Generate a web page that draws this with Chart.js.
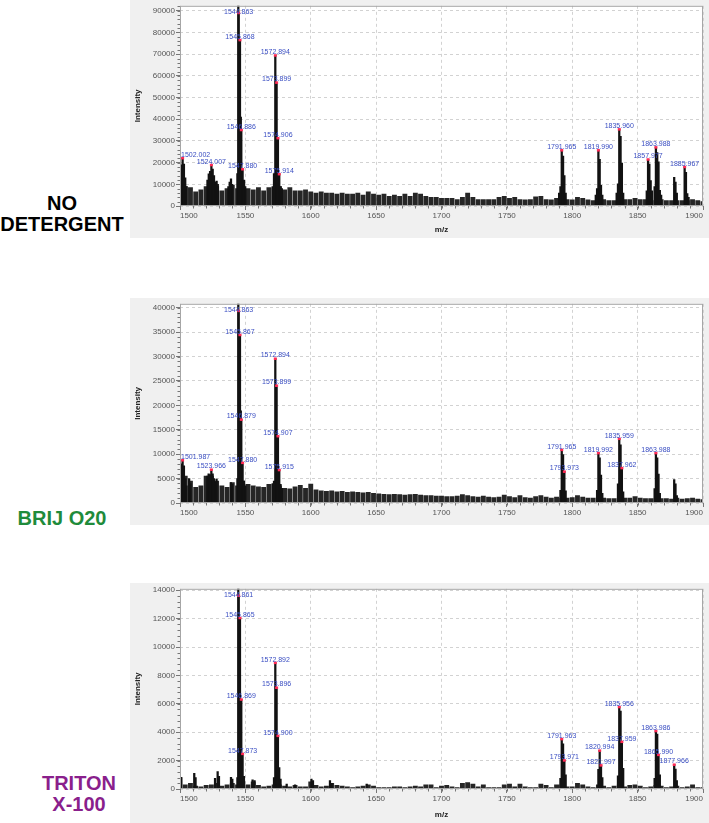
<!DOCTYPE html>
<html>
<head>
<meta charset="utf-8">
<script src="https://cdn.jsdelivr.net/npm/chart.js@4.4.0/dist/chart.umd.min.js"></script>
<style>
  body { margin: 0; width: 709px; height: 823px; position: relative; background: #fff; overflow: hidden;
         font-family: "Liberation Sans", Arial, sans-serif; }
  .panel { position: absolute; left: 130px; width: 579px; background: #f0f0f0; }
  .tag { position: absolute; font-weight: bold; font-size: 20px; line-height: 21px; text-align: center; }
</style>
</head>
<body>

<div class="tag" style="left:0;top:193px;width:124px;color:#000">NO<br>DETERGENT</div>
<div class="tag" style="left:0;top:508px;width:124px;color:#1f8b3b">BRIJ O20</div>
<div class="tag" style="left:0;top:773px;width:158px;color:#8a1f8c">TRITON<br>X-100</div>

<div class="panel" style="top:0;height:238px"><canvas id="c1"></canvas></div>
<div class="panel" style="top:298px;height:227px"><canvas id="c2"></canvas></div>
<div class="panel" style="top:583px;height:240px"><canvas id="c3"></canvas></div>

<script>
// X AXIS
const xTicks = [1500, 1550, 1600, 1650, 1700, 1750, 1800, 1850, 1900];
const baseStart = 1500;   // baseline "grass" sampled every 4 m/z
const baseStep = 4;

// ---------- NO DETERGENT ----------
const yTicks1 = [0, 10000, 20000, 30000, 40000, 50000, 60000, 70000, 80000, 90000];
const base1 = [12000, 9000, 8500, 6500, 7500, 9000, 12000, 10000, 7000, 8000,
  9500, 8000, 11000, 8000, 7500, 8500, 7000, 8500, 8500, 9000,
  7500, 8500, 7000, 7000, 7500, 6500, 6000, 6500, 6000, 6000,
  5500, 6000, 5500, 5500, 6000, 5000, 6500, 5500, 5000, 5500,
  4500, 5000, 4500, 5500, 4500, 6000, 5500, 4500, 4000, 4000,
  3500, 3500, 3500, 3000, 4000, 6000, 4000, 3000, 3000, 3000,
  3000, 4000, 4500, 3500, 4000, 3000, 2800, 3000, 4200, 4500,
  3000, 2800, 3500, 3000, 3000, 2800, 4000, 3500, 2800, 2500,
  3000, 3000, 2500, 2500, 2500, 3000, 3000, 3500, 3000, 3000,
  2500, 2500, 3000, 2500, 2500, 2500, 2500, 2500, 3000, 2500, 2000];
const labMz1 = [1502.002, 1524.007, 1544.863, 1545.868, 1546.886, 1547.880,
  1572.894, 1573.899, 1574.906, 1575.914,
  1791.965, 1819.990, 1835.960, 1857.977, 1863.988, 1885.967];
const labInt1 = [22170, 19000, 89100, 76600, 35140, 17040,
  69520, 57000, 31370, 14780,
  25790, 25790, 35440, 21560, 27140, 18100];
const extraMz1 = [1501.0, 1503.0, 1504.0, 1505.0,
  1521.0, 1522.0, 1523.0, 1525.0, 1526.0, 1527.0, 1528.0, 1529.0,
  1537.0, 1538.0, 1539.0, 1540.0,
  1543.9, 1544.6, 1546.5, 1548.9, 1549.9,
  1570.9, 1571.9, 1576.9, 1577.9,
  1789.96, 1790.96, 1792.97, 1793.97, 1794.97,
  1817.99, 1818.99, 1820.99, 1821.99, 1822.99,
  1833.96, 1834.96, 1836.96, 1837.96, 1838.96,
  1856.98, 1858.98, 1859.98, 1860.98,
  1862.99, 1864.99, 1865.99, 1866.99, 1867.99,
  1877.97, 1878.97, 1879.97,
  1886.97, 1887.97, 1888.97];
const extraInt1 = [19000, 19300, 13000, 9000,
  12000, 14800, 16000, 17000, 14000, 11000, 11500, 9000,
  9000, 11000, 12500, 10000,
  15000, 93000, 41000, 12000, 9000,
  9000, 15000, 9000, 8000,
  6000, 9000, 23070, 14020, 6000,
  5000, 8000, 21560, 9500, 5000,
  6000, 10250, 32120, 19750, 6000,
  7000, 19300, 11760, 7000,
  9000, 24580, 20360, 7240, 5000,
  13270, 11000, 6000,
  15530, 5730, 4000];

// ---------- BRIJ O20 ----------
const yTicks2 = [0, 5000, 10000, 15000, 20000, 25000, 30000, 35000, 40000];
const base2 = [5000, 5500, 4500, 3200, 3500, 5500, 5500, 4500, 3500, 3200,
  4200, 3500, 4500, 3800, 3500, 3300, 3200, 3800, 3800, 3500,
  3000, 2900, 3300, 3600, 3000, 3900, 2700, 2500, 2400, 2500,
  2300, 2400, 2200, 2300, 2200, 2100, 2200, 2000, 1900, 1800,
  1700, 1800, 1700, 1600, 1700, 1800, 1600, 1500, 1500, 1400,
  1400, 1300, 1300, 1400, 1700, 1500, 1300, 1200, 1400, 1200,
  1100, 1200, 1600, 1300, 1100, 1500, 1100, 1000, 1300, 1500,
  1200, 1000, 1200, 1000, 1000, 1100, 1500, 1200, 1000, 1000,
  1000, 1000, 900, 900, 1000, 1000, 1000, 1300, 1000, 900,
  900, 900, 900, 900, 800, 1000, 800, 900, 1000, 800, 700];
const labMz2 = [1501.987, 1523.966, 1544.863, 1545.867, 1546.879, 1547.880,
  1572.894, 1573.899, 1574.907, 1575.915,
  1791.965, 1793.973, 1819.992, 1835.959, 1837.962, 1863.988];
const labInt2 = [8800, 6870, 39400, 34470, 17130, 8270,
  29600, 24070, 13730, 6800,
  10930, 6470, 10270, 13200, 7200, 10270];
const extraMz2 = [1501.0, 1503.0, 1504.0, 1505.0, 1507.0, 1508.0,
  1520.9, 1521.9, 1522.9, 1524.97, 1525.97, 1526.97, 1527.97,
  1538.9, 1539.9,
  1543.9, 1544.6, 1546.5, 1548.9, 1549.9,
  1570.9, 1571.9, 1576.9, 1577.9,
  1790.97, 1792.97, 1794.97,
  1818.99, 1820.99, 1821.99, 1822.99,
  1834.96, 1836.96, 1838.96,
  1862.99, 1864.99, 1865.99, 1866.99,
  1877.97, 1878.97, 1879.97];
const extraInt2 = [8000, 7600, 5000, 3500, 5000, 4000,
  5500, 6000, 5800, 6000, 5000, 4300, 4900,
  4200, 3800,
  5000, 42000, 18900, 4500, 3500,
  4000, 4500, 3800, 3000,
  2600, 9930, 2500,
  2600, 9270, 5730, 2000,
  3930, 11930, 2270,
  2930, 9270, 5930, 2000,
  4800, 3930, 1500];

// ---------- TRITON X-100 ----------
const yTicks3 = [0, 2000, 4000, 6000, 8000, 10000, 12000, 14000];
const base3 = [800, 300, 400, 200, 150, 250, 300, 400, 200, 300,
  400, 300, 500, 300, 500, 250, 150, 200, 300, 300,
  200, 150, 250, 150, 150, 500, 250, 150, 200, 400,
  250, 200, 150, 100, 150, 200, 300, 200, 100, 100,
  100, 150, 150, 100, 150, 200, 150, 300, 300, 100,
  200, 250, 150, 100, 400, 450, 350, 150, 300, 100,
  100, 100, 300, 350, 150, 350, 150, 100, 100, 350,
  250, 100, 300, 300, 150, 150, 400, 300, 150, 100,
  300, 200, 100, 200, 300, 150, 250, 300, 200, 100,
  150, 250, 200, 100, 150, 200, 100, 150, 300, 100, 100];
const labMz3 = [1544.861, 1545.865, 1546.869, 1547.873,
  1572.892, 1573.896, 1574.900,
  1791.963, 1793.971, 1820.994, 1821.997, 1835.956, 1837.959,
  1863.986, 1865.990, 1877.966];
const labInt3 = [13630, 12060, 6320, 2490,
  8900, 7150, 3760,
  3530, 2030, 2720, 1680, 5790, 3340,
  4100, 2420, 1730];
const extraMz3 = [1500.8, 1510.9, 1511.9, 1526.8, 1528.8, 1529.8, 1539.0, 1540.0,
  1543.9, 1544.6, 1548.9, 1555.5, 1557.0, 1571.9, 1575.9, 1576.9,
  1581.6, 1588.0, 1600.5, 1601.7, 1614.7, 1616.0, 1642.8,
  1790.96, 1792.97, 1794.97, 1819.99, 1822.99, 1834.96, 1836.96, 1838.96,
  1862.99, 1864.99, 1866.99, 1878.97, 1879.97];
const extraInt3 = [830, 1110, 800, 760, 1220, 900, 830, 700,
  800, 14500, 900, 650, 600, 800, 1500, 700,
  350, 300, 700, 600, 600, 400, 350,
  760, 3180, 1000, 1380, 800, 920, 5490, 1450,
  760, 3870, 1000, 1400, 600];

Chart.defaults.font.family = '"Liberation Sans", Arial, sans-serif';
Chart.defaults.font.size = 8;
Chart.defaults.color = '#555';

// white plot area, frame, minor ticks and peak labels
const specPlugin = {
  id: 'spec',
  beforeDraw(chart) {
    const { ctx, chartArea: a } = chart;
    ctx.save();
    ctx.fillStyle = '#fff';
    ctx.fillRect(a.left, a.top, a.right - a.left, a.bottom - a.top);
    ctx.restore();
  },
  afterDraw(chart) {
    const { ctx, chartArea: a, scales: { x, y } } = chart;
    const o = chart.options.plugins.spec;
    ctx.save();
    // peak markers + labels
    ctx.font = '7px "Liberation Sans", Arial, sans-serif';
    ctx.textAlign = 'center';
    ctx.textBaseline = 'alphabetic';
    o.labMz.forEach((mz, i) => {
      const px = x.getPixelForValue(mz);
      const py = y.getPixelForValue(o.labInt[i]);
      const txt = mz.toFixed(3);
      const half = ctx.measureText(txt).width / 2;
      ctx.fillStyle = '#ff2a55';
      ctx.fillRect(px - 1.5, py - 1, 3, 2.5);
      ctx.fillStyle = '#3a4ec2';
      ctx.fillText(txt, Math.max(px, a.left + half + 1), Math.max(py - 1, a.top + 8));
    });
    // frame
    ctx.strokeStyle = '#a6a6a6';
    ctx.lineWidth = 1;
    ctx.strokeRect(a.left + 0.5, a.top + 0.5, a.right - a.left - 1, a.bottom - a.top - 1);
    // minor ticks
    ctx.strokeStyle = '#777';
    ctx.beginPath();
    for (let v = x.min; v <= x.max; v += 10) {
      const px = Math.round(x.getPixelForValue(v)) + 0.5;
      ctx.moveTo(px, a.bottom); ctx.lineTo(px, a.bottom + 2.5);
    }
    for (let v = 0; v <= y.max; v += o.yMinor) {
      const py = Math.round(y.getPixelForValue(v)) + 0.5;
      ctx.moveTo(a.left, py); ctx.lineTo(a.left - 2.5, py);
    }
    ctx.stroke();
    ctx.restore();
  }
};

function makeSpectrum(id, p) {
  const baseData = p.base.map((v, i) => ({ x: baseStart + i * baseStep, y: v }));
  const peakData = p.labMz.map((m, i) => ({ x: m, y: p.labInt[i] }))
    .concat(p.extraMz.map((m, i) => ({ x: m, y: p.extraInt[i] })));
  return new Chart(document.getElementById(id), {
    type: 'bar',
    data: {
      datasets: [
        { data: peakData, backgroundColor: '#121212', barThickness: 1.6, grouped: false, order: 0 },
        { data: baseData, backgroundColor: '#262626', barThickness: 4.2, grouped: false, order: 1 }
      ]
    },
    options: {
      responsive: true,
      maintainAspectRatio: false,
      animation: false,
      events: [],
      layout: { padding: { top: p.padTop, right: 6, left: 0, bottom: 0 } },
      plugins: { legend: { display: false }, tooltip: { enabled: false },
        spec: { labMz: p.labMz, labInt: p.labInt, yMinor: p.yMinor } },
      scales: {
        x: {
          type: 'linear', min: 1500, max: 1900, offset: false,
          afterBuildTicks: s => { s.ticks = xTicks.map(v => ({ value: v })); },
          afterFit: s => { s.height = p.xHeight; },
          ticks: { autoSkip: false, maxRotation: 0, align: 'inner', padding: 1, callback: v => String(v) },
          grid: { color: '#d2d2d2', tickColor: '#777', tickLength: 4, tickBorderDash: [], offset: false },
          border: { display: false, dash: [3, 3] },
          title: { display: p.xTitle, text: 'm/z', font: { weight: 'bold', size: 8 }, color: '#222', padding: { top: 2, bottom: 3 } }
        },
        y: {
          min: 0, max: p.yMax,
          afterBuildTicks: s => { s.ticks = p.yTicks.map(v => ({ value: v })); },
          afterFit: s => { s.width = 50; },
          ticks: { padding: 1, callback: v => String(v) },
          grid: { color: '#d2d2d2', tickColor: '#777', tickLength: 4, tickBorderDash: [] },
          border: { display: false, dash: [3, 3] },
          title: { display: true, text: 'Intensity', font: { weight: 'bold', size: 8 }, color: '#222', padding: { top: 3, bottom: 2 } }
        }
      }
    },
    plugins: [specPlugin]
  });
}

makeSpectrum('c1', { base: base1, labMz: labMz1, labInt: labInt1, extraMz: extraMz1, extraInt: extraInt1,
  yTicks: yTicks1, yMax: 92300, yMinor: 2000, padTop: 2, xHeight: 32, xTitle: true });
makeSpectrum('c2', { base: base2, labMz: labMz2, labInt: labInt2, extraMz: extraMz2, extraInt: extraInt2,
  yTicks: yTicks2, yMax: 40800, yMinor: 1000, padTop: 1, xHeight: 22, xTitle: false });
makeSpectrum('c3', { base: base3, labMz: labMz3, labInt: labInt3, extraMz: extraMz3, extraInt: extraInt3,
  yTicks: yTicks3, yMax: 14100, yMinor: 400, padTop: 4, xHeight: 34, xTitle: true });
</script>
</body>
</html>
